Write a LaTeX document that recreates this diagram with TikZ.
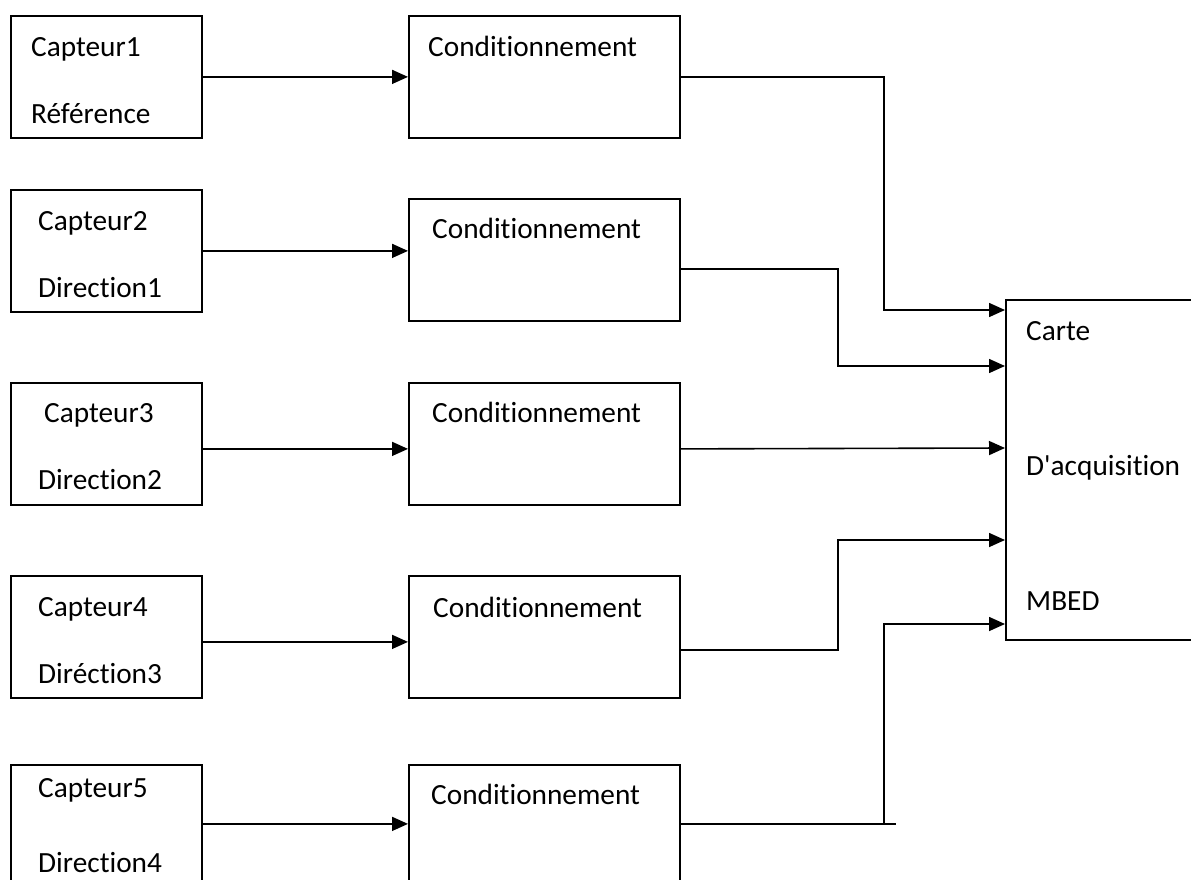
\documentclass[tikz,border=0pt]{standalone}
\usepackage{fontspec}
\setmainfont{Carlito}[Ligatures={NoCommon}]
\usetikzlibrary{arrows.meta}
\begin{document}
\begin{tikzpicture}[x=1pt,y=-1pt,
  box/.style={draw, line width=1.8pt, rectangle, inner sep=0pt, anchor=north west},
  sbox/.style={box, minimum width=191pt, minimum height=122pt},
  cbox/.style={box, minimum width=271pt, minimum height=122pt},
  lbl/.style={anchor=base west, inner sep=0pt, font=\fontsize{29.3}{35}\selectfont},
  conn/.style={line width=1.6pt},
  arr/.style={conn, -{Triangle[length=16pt,width=14pt]}}
]
\useasboundingbox (0,0) rectangle (1191,880);
\clip (0,0) rectangle (1191,880);
% sensor boxes
\node[sbox] (s1) at (10,15) {};
\node[sbox] (s2) at (10,189) {};
\node[sbox] (s3) at (10,382) {};
\node[sbox] (s4) at (10,575) {};
\node[sbox] (s5) at (10,764) {};
% conditioning boxes
\node[cbox] (c1) at (408,15) {};
\node[cbox] (c2) at (408,198) {};
\node[cbox] (c3) at (408,382) {};
\node[cbox] (c4) at (408,575) {};
\node[cbox] (c5) at (408,764) {};
% acquisition board
\node[box, minimum width=300pt, minimum height=340pt] (m) at (1005,299) {};
% labels
\node[lbl] (t1a) at (31,57) {Capteur1};
\node[lbl] (t1b) at (31,124) {Référence};
\node[lbl] (t2a) at (38,230) {Capteur2};
\node[lbl] (t2b) at (38,297) {Direction1};
\node[lbl] (t3a) at (44,422) {Capteur3};
\node[lbl] (t3b) at (38,489) {Direction2};
\node[lbl] (t4a) at (38,616) {Capteur4};
\node[lbl] (t4b) at (38,683) {Diréction3};
\node[lbl] (t5a) at (38,797) {Capteur5};
\node[lbl] (t5b) at (38,872) {Direction4};
\node[lbl] (u1) at (428,57) {Conditionnement};
\node[lbl] (u2) at (432,238) {Conditionnement};
\node[lbl] (u3) at (432,422) {Conditionnement};
\node[lbl] (u4) at (433,617) {Conditionnement};
\node[lbl] (u5) at (431,804) {Conditionnement};
\node[lbl] (ma) at (1026,340) {Carte};
\node[lbl] (mb) at (1026,475) {D\textquotesingle acquisition};
\node[lbl] (mc) at (1026,610) {MBED};
% sensor -> conditioning
\draw[arr] (s1.east) -- (s1.east -| c1.west);
\draw[arr] (s2.east) -- (s2.east -| c2.west);
\draw[arr] ([yshift=-5pt]s3.east) -- ([yshift=-5pt]s3.east -| c3.west);
\draw[arr] ([yshift=-5pt]s4.east) -- ([yshift=-5pt]s4.east -| c4.west);
\draw[arr] ([yshift=2pt]s5.east) -- ([yshift=2pt]s5.east -| c5.west);
% inputs of the board
\coordinate (mi1) at ([yshift=-11pt]m.north west);
\coordinate (mi2) at ([yshift=-67pt]m.north west);
\coordinate (mi3) at ([yshift=-149pt]m.north west);
\coordinate (mi4) at ([yshift=-241pt]m.north west);
\coordinate (mi5) at ([yshift=-325pt]m.north west);
\coordinate (v1) at (884,0);
\coordinate (v2) at (838,0);
\coordinate (e5) at (896,0);
\coordinate (o2) at ([yshift=-9pt]c2.east);
\coordinate (o3) at ([yshift=-5pt]c3.east);
\coordinate (o4) at ([yshift=-13pt]c4.east);
\coordinate (o5) at ([yshift=2pt]c5.east);
% conditioning -> board
\draw[arr] (c1.east) -| (v1 |- mi1) -- (mi1);
\draw[arr] (o2) -| (v2 |- mi2) -- (mi2);
\draw[arr] (o3) -- (mi3);
\draw[arr] (o4) -| (v2 |- mi4) -- (mi4);
\draw[conn] (o5) -- (o5 -| e5);
\draw[arr] (o5 -| v1) |- (mi5);
\end{tikzpicture}
\end{document}
